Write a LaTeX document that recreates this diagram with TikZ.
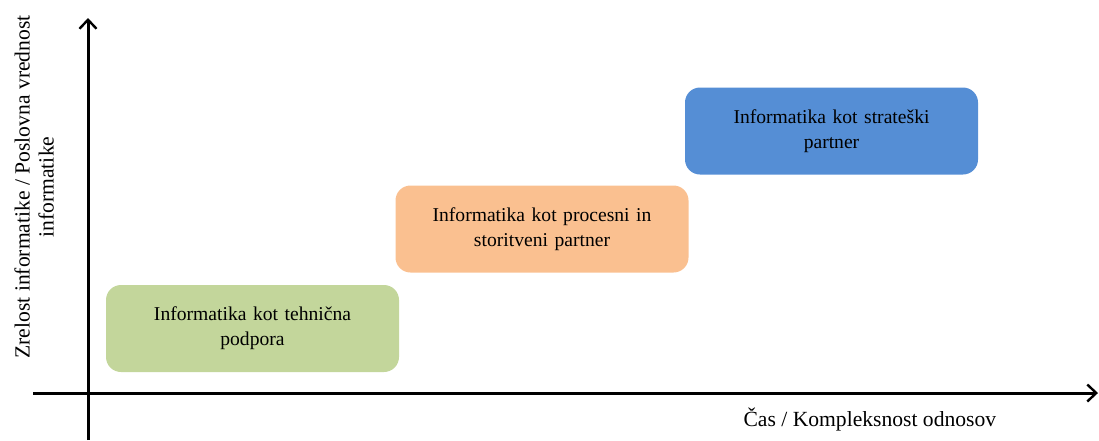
\documentclass[tikz,border=0pt]{standalone}
\usepackage{fontspec}
\setmainfont{Liberation Serif}
\usetikzlibrary{arrows.meta, positioning}
\definecolor{stGreen}{RGB}{195,214,155}
\definecolor{stOrange}{RGB}{250,192,144}
\definecolor{stBlue}{RGB}{85,142,213}
\tikzset{
  stage/.style={rectangle, rounded corners=15pt,
                minimum width=293pt, minimum height=87pt,
                text width=270pt, align=center,
                font=\fontsize{19.6}{25}\selectfont},
  axis/.style={line width=3pt, -{Straight Barb[length=9pt, width=17pt, line width=2.4pt]}},
  axlabel/.style={align=center, font=\fontsize{21.6}{24}\selectfont},
}
\begin{document}
\begin{tikzpicture}[x=1pt, y=-1pt]
  \useasboundingbox (0,0) rectangle (1099,440);
  % axes
  \coordinate (ybot) at (88,440);
  \coordinate (ytop) at (88,18);
  \coordinate (xleft) at (33,393);
  \coordinate (xright) at (1098,393);
  \draw[axis] (ybot) -- (ytop);
  \draw[axis] (xleft) -- (xright);
  \node[axlabel, rotate=90] (ylab) at (34,187)
    {Zrelost informatike / Poslovna vrednost\\informatike};
  \node[axlabel, anchor=west] (xlab) at (740,420)
    {Čas / Kompleksnost odnosov};
  % stages
  \node[stage, fill=stGreen] (tech) at (252.5,328.5)
    {Informatika kot tehnična\\podpora};
  \node[stage, fill=stOrange] (proc) at (542,229)
    {Informatika kot procesni in\\storitveni partner};
  \node[stage, fill=stBlue] (strat) at (831.5,131)
    {Informatika kot strateški\\partner};
\end{tikzpicture}
\end{document}
